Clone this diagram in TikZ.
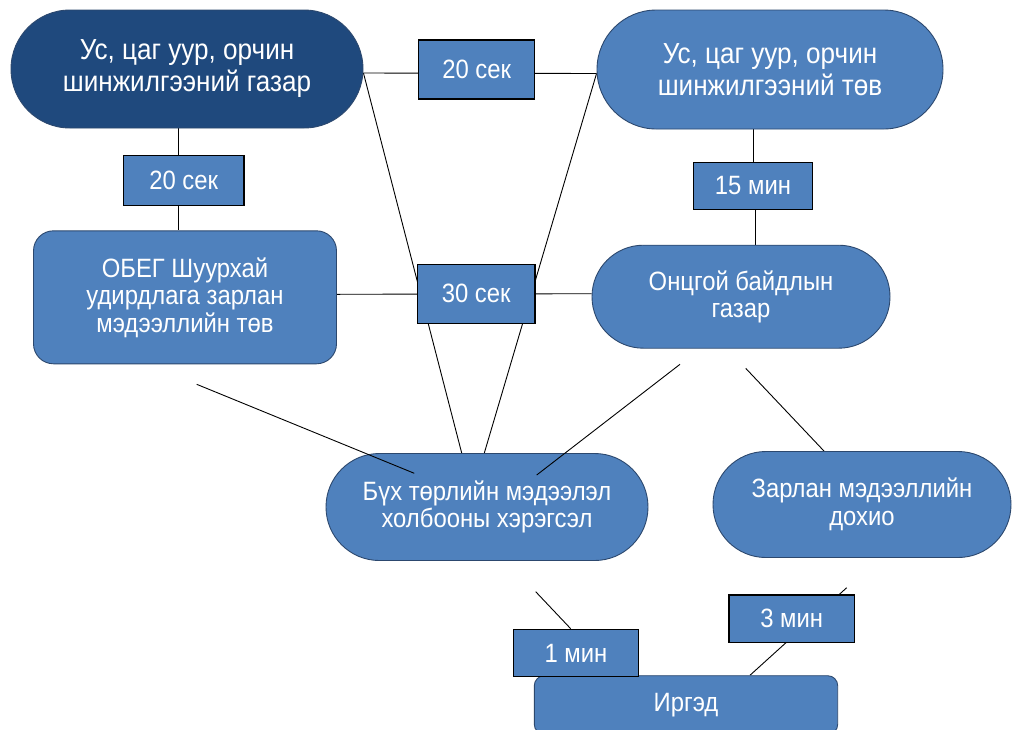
\documentclass[tikz,border=0pt]{standalone}
\usepackage{fontspec}
\setmainfont[FakeStretch=0.9]{Liberation Sans}
\usetikzlibrary{backgrounds}
\definecolor{navy}{RGB}{31,73,125}
\definecolor{boxblue}{RGB}{79,129,189}
\definecolor{pillline}{RGB}{44,72,110}
\tikzset{
  base/.style={text=white, font=\fontsize{26.5}{27.5}\selectfont, align=center, inner sep=0pt, rectangle},
  pill/.style={base, draw=pillline, fill=boxblue, line width=0.9pt},
  tbox/.style={base, draw=black, fill=boxblue, line width=1.3pt},
  conn/.style={draw=black, line width=0.9pt},
  bigtext/.style={font=\fontsize{29}{32}\selectfont}
}
\begin{document}
\begin{tikzpicture}[x=1pt,y=-1pt]
\clip (0,0) rectangle (1012,729);

% top pills
\node[pill, fill=navy, bigtext, minimum width=352pt, minimum height=118pt, rounded corners=58.9pt] (wg) at (187,69) {Ус, цаг уур, орчин\\шинжилгээний газар};
\node[pill, bigtext, minimum width=346pt, minimum height=119pt, rounded corners=59.4pt] (wt) at (770,69.5) {Ус, цаг уур, орчин\\шинжилгээний төв};

% time boxes
\node[tbox, minimum width=116pt, minimum height=59pt] (t20) at (476.7,69.5) {20 сек};
\node[tbox, minimum width=120.7pt, minimum height=50pt] (l20) at (183.7,180.3) {20 сек};
\node[tbox, minimum width=119pt, minimum height=47pt] (m15) at (753,185.7) {15 мин};
\node[tbox, minimum width=117.7pt, minimum height=59pt] (s30) at (476.2,293.7) {30 сек};

% middle row
\node[pill, minimum width=303pt, minimum height=133pt, rounded corners=20pt] (obeg) at (185,297.3) {ОБЕГ Шуурхай\\удирдлага зарлан\\мэдээллийн төв};
\node[pill, minimum width=298pt, minimum height=103pt, rounded corners=51.4pt] (onc) at (741,296.7) {Онцгой байдлын\\газар};

% lower row
\node[pill, minimum width=322pt, minimum height=107pt, rounded corners=53.4pt] (bux) at (487,507) {Бүх төрлийн мэдээлэл\\холбооны хэрэгсэл};
\node[pill, minimum width=298pt, minimum height=106pt, rounded corners=52.9pt] (zar) at (862,504.5) {Зарлан мэдээллийн\\дохио};

% bottom
\node[pill, minimum width=303.4pt, minimum height=58.6pt, rounded corners=10pt] (irg) at (686,705) {Иргэд};
\node[tbox, minimum width=125.3pt, minimum height=47.3pt] (m1) at (576,653) {1 мин};
\node[tbox, minimum width=125.3pt, minimum height=47.3pt] (m3) at (791.7,618.7) {3 мин};

% free ends
\coordinate (a1) at (196.7,384.3);
\coordinate (a2) at (414.3,473.3);
\coordinate (b1) at (680,364.3);
\coordinate (b2) at (536.7,475);
\coordinate (c1) at (745.7,368.3);
\coordinate (d1) at (535.7,591.7);
\coordinate (e1) at (846.7,587.7);

\begin{scope}[on background layer]
  \fill[white] (0,0) rectangle (1012,729);
  \draw[conn] ([yshift=-4pt]wg.east) -- ([yshift=-4pt]wt.west);
  \draw[conn] ([xshift=-5pt]l20.north) -- ([xshift=-5pt]l20.north |- wg.south);
  \draw[conn] ([xshift=-5pt]l20.south) -- ([xshift=-5pt]l20.south |- obeg.north);
  \draw[conn] (m15.north) -- (m15.north |- wt.south);
  \draw[conn] ([xshift=2pt]m15.south) -- ([xshift=2pt]m15.south |- onc.north);
  \draw[conn] ([yshift=3pt]obeg.east) -- ([yshift=3pt]onc.west);
  \draw[conn] ([yshift=-4pt]wg.east) -- ([xshift=-25.3pt]bux.north);
  \draw[conn] ([yshift=-4pt]wt.west) -- ([xshift=-2.7pt]bux.north);
  \draw[conn] (e1) -- ([xshift=64pt]irg.north);
  \draw[conn] (d1) -- ([xshift=-5.3pt]m1.north);
  \draw[conn] (c1) -- ([xshift=-38pt]zar.north);
\end{scope}

\draw[conn] (a1) -- (a2);
\draw[conn] (b1) -- (b2);
\end{tikzpicture}
\end{document}
